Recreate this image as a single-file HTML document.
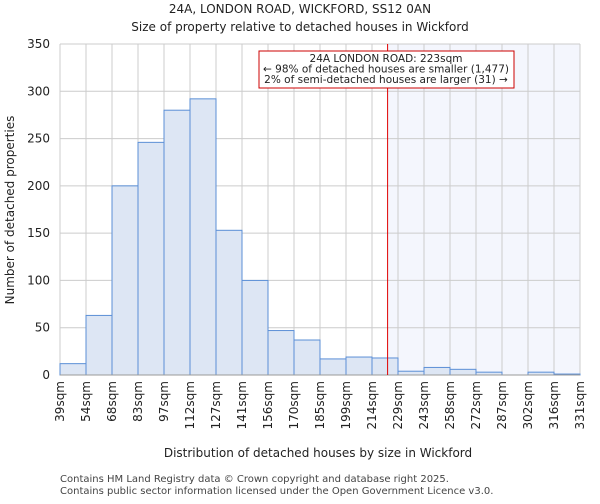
<!DOCTYPE html>
<html><head><meta charset="utf-8"><style>
body{margin:0;background:#fff;font-family:"DejaVu Sans","Liberation Sans",sans-serif;}
</style></head><body>
<svg width="600" height="500" xmlns="http://www.w3.org/2000/svg" font-family="DejaVu Sans, Liberation Sans, sans-serif">
<text x="300" y="13" text-anchor="middle" font-size="12" fill="#222">24A, LONDON ROAD, WICKFORD, SS12 0AN</text>
<text x="300" y="31" text-anchor="middle" font-size="12" fill="#222">Size of property relative to detached houses in Wickford</text>
<g id="plot"></g>
<text x="318" y="457" text-anchor="middle" font-size="12" fill="#222">Distribution of detached houses by size in Wickford</text>
<text transform="translate(14,210) rotate(-90)" text-anchor="middle" font-size="12" fill="#222">Number of detached properties</text>
<text x="60" y="482" font-size="10" fill="#444">Contains HM Land Registry data © Crown copyright and database right 2025.</text>
<text x="60" y="494" font-size="10" fill="#444">Contains public sector information licensed under the Open Government Licence v3.0.</text>
</svg>
<script>
const categories=["39sqm","54sqm","68sqm","83sqm","97sqm","112sqm","127sqm","141sqm","156sqm","170sqm","185sqm","199sqm","214sqm","229sqm","243sqm","258sqm","272sqm","287sqm","302sqm","316sqm","331sqm"];
const values=[12,63,200,246,280,292,153,100,47,37,17,19,18,4,8,6,3,0,3,1];
const yTicks=[0,50,100,150,200,250,300,350];
const markerBin=12.6;
const NS="http://www.w3.org/2000/svg";
const g=document.getElementById('plot');
const X0=60,X1=580,Y0=375,Y1=44,YMAX=350;
const bw=(X1-X0)/values.length;
const xs=i=>X0+i*bw;
const ys=v=>Y0-(v/YMAX)*(Y0-Y1);
function mk(t,a){const e=document.createElementNS(NS,t);for(const k in a)e.setAttribute(k,a[k]);g.appendChild(e);return e;}
const mx=xs(markerBin);
let sh=mk('rect',{x:mx,y:Y1,width:X1-mx,height:Y0-Y1,fill:'#f4f6fd'});


yTicks.forEach(t=>{
 let l=mk('line',{x1:X0,x2:X1,y1:ys(t),y2:ys(t),stroke:'#ccc','stroke-width':1});
 
 
 let tx=mk('text',{x:X0-10,y:ys(t)+4,'text-anchor':'end','font-size':12,fill:'#222'});
 tx.textContent=t;
 
 
});
categories.forEach((c,i)=>{
 let l=mk('line',{x1:xs(i),x2:xs(i),y1:Y1,y2:Y0,stroke:'#ccc','stroke-width':1});
 
 
 let tx=mk('text',{transform:`translate(${xs(i)+4},${Y0+6}) rotate(-90)`,'text-anchor':'end','font-size':12,fill:'#222'});
 tx.textContent=c;
 
 
});
values.forEach((v,i)=>{
 let r=mk('rect',{x:xs(i),y:ys(v),width:bw,height:Y0-ys(v),fill:'#dde6f4',stroke:'#5b8fd6','stroke-width':1});
 
 
});
let ax=mk('line',{x1:X0,x2:X1,y1:Y0,y2:Y0,stroke:'#999'});


let ml=mk('line',{x1:mx,x2:mx,y1:Y1,y2:Y0,stroke:'#e00000','stroke-width':1});


let box=mk('rect',{x:259,y:51,width:255,height:37,fill:'#fff',stroke:'#cc0000'});


["24A LONDON ROAD: 223sqm","← 98% of detached houses are smaller (1,477)","2% of semi-detached houses are larger (31) →"].forEach((s,i)=>{
 let t=mk('text',{x:386,y:62+i*10.5,'text-anchor':'middle','font-size':10.5,fill:'#222'});
 t.textContent=s;
 
 
});
</script>
</body></html>
